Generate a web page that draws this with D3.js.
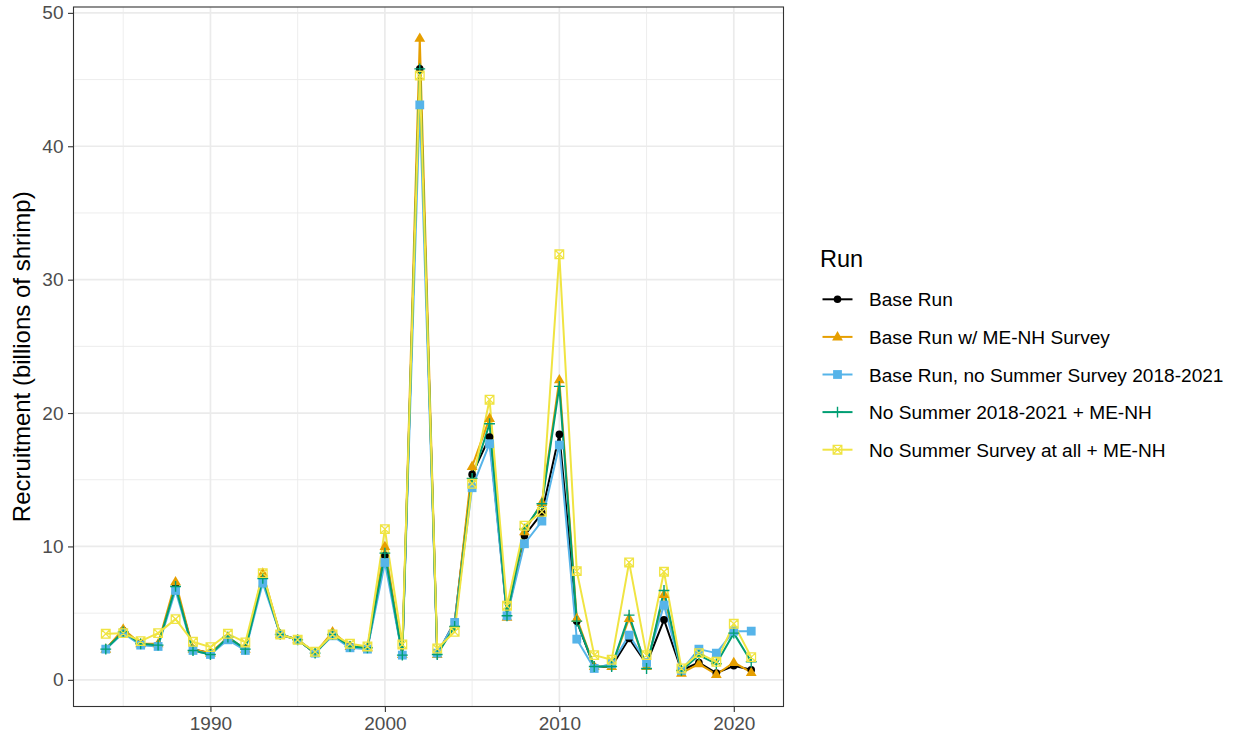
<!DOCTYPE html>
<html>
<head>
<meta charset="utf-8">
<script src="https://cdn.jsdelivr.net/npm/d3@7"></script>
<style>
  body { margin: 0; background: #fff; }
  svg { display: block; font-family: "Liberation Sans", Arial, sans-serif; }
</style>
</head>
<body>
<div id="chart"></div>
<script>
// recruitment estimates by model run
const years = d3.range(1984, 2022);

const baseRun = [2.3, 3.7, 2.7, 2.6, 7.0, 2.3, 2.0, 3.1, 2.3, 7.6, 3.4, 3.0, 2.0, 3.4, 2.5, 2.4,
  9.3, 1.9, 45.8, 1.9, 4.35, 15.4, 18.2, 4.8, 10.8, 12.5, 18.4, 4.4, 0.95, 1.0, 3.1, 1.2, 4.5, 0.7, 1.3, 0.5, 1.05, 0.75];
const baseMeNh = [2.3, 3.8, 2.7, 2.7, 7.35, 2.3, 2.0, 3.2, 2.3, 8.0, 3.4, 3.0, 2.0, 3.6, 2.5, 2.4,
  10.0, 1.9, 48.1, 1.9, 4.2, 16.0, 19.6, 4.7, 11.1, 13.3, 22.5, 4.6, 1.0, 1.0, 4.6, 1.0, 6.4, 0.5, 1.2, 0.4, 1.3, 0.55];
const baseNoSummer = [2.3, 3.5, 2.6, 2.5, 6.7, 2.2, 1.9, 3.0, 2.2, 7.25, 3.4, 3.0, 2.0, 3.3, 2.4, 2.3,
  8.8, 1.85, 43.1, 2.0, 4.3, 14.4, 17.7, 4.8, 10.2, 11.9, 17.6, 3.05, 0.85, 1.2, 3.35, 1.3, 5.6, 0.7, 2.3, 2.0, 3.65, 3.65];
const noSummerMeNh = [2.3, 3.6, 2.7, 2.6, 7.0, 2.2, 1.9, 3.2, 2.3, 7.6, 3.4, 3.0, 2.0, 3.4, 2.5, 2.4,
  9.5, 1.85, 45.8, 1.9, 4.0, 15.1, 19.2, 4.8, 11.3, 13.2, 22.0, 4.4, 1.0, 1.0, 4.85, 0.85, 6.7, 0.7, 1.85, 1.2, 3.5, 1.35];
const noSummerAtAll = [3.45, 3.5, 2.9, 3.5, 4.55, 2.85, 2.45, 3.45, 2.8, 8.0, 3.4, 3.0, 2.1, 3.4, 2.7, 2.5,
  11.3, 2.65, 45.3, 2.35, 3.6, 14.7, 21.0, 5.55, 11.55, 12.6, 31.9, 8.15, 1.85, 1.5, 8.8, 1.85, 8.1, 0.85, 2.0, 1.35, 4.2, 1.7];

const runNames = [
  'Base Run',
  'Base Run w/ ME-NH Survey',
  'Base Run, no Summer Survey 2018-2021',
  'No Summer 2018-2021 + ME-NH',
  'No Summer Survey at all + ME-NH'
];
const runValues = [baseRun, baseMeNh, baseNoSummer, noSummerMeNh, noSummerAtAll];
const runColors = ['#000000', '#E69F00', '#56B4E9', '#009E73', '#F0E442'];
const runShapes = ['circle', 'triangle', 'square', 'plus', 'boxX'];

const xMajor = [1990, 2000, 2010, 2020];
const xMinor = [1985, 1995, 2005, 2015];
const yMajor = [0, 10, 20, 30, 40, 50];
const yMinor = [5, 15, 25, 35, 45];

const width = 1238, height = 740;
const panel = { left: 73.5, right: 783.5, top: 7, bottom: 706.5 };

const svg = d3.select('#chart').append('svg')
  .attr('width', width)
  .attr('height', height);

const x = d3.scaleLinear().domain([1982.15, 2022.85]).range([panel.left, panel.right]);
const y = d3.scaleLinear().domain([-2.0, 50.44]).range([panel.bottom, panel.top]);

// grid
const grid = svg.append('g');
grid.selectAll('.vmin').data(xMinor).enter().append('line')
  .attr('x1', d => x(d)).attr('x2', d => x(d))
  .attr('y1', panel.top).attr('y2', panel.bottom)
  .attr('stroke', '#EBEBEB').attr('stroke-width', 0.9);
grid.selectAll('.hmin').data(yMinor).enter().append('line')
  .attr('y1', d => y(d)).attr('y2', d => y(d))
  .attr('x1', panel.left).attr('x2', panel.right)
  .attr('stroke', '#EBEBEB').attr('stroke-width', 0.9);
grid.selectAll('.vmaj').data(xMajor).enter().append('line')
  .attr('x1', d => x(d)).attr('x2', d => x(d))
  .attr('y1', panel.top).attr('y2', panel.bottom)
  .attr('stroke', '#EBEBEB').attr('stroke-width', 1.7);
grid.selectAll('.hmaj').data(yMajor).enter().append('line')
  .attr('y1', d => y(d)).attr('y2', d => y(d))
  .attr('x1', panel.left).attr('x2', panel.right)
  .attr('stroke', '#EBEBEB').attr('stroke-width', 1.7);

// point shapes
function drawShape(sel, shape, color) {
  if (shape === 'circle') {
    sel.append('circle').attr('r', 3.8).attr('fill', color);
  } else if (shape === 'triangle') {
    sel.append('path').attr('d', 'M0,-5.8L5.4,3.5L-5.4,3.5Z').attr('fill', color);
  } else if (shape === 'square') {
    sel.append('rect').attr('x', -4.4).attr('y', -4.4).attr('width', 8.8).attr('height', 8.8).attr('fill', color);
  } else if (shape === 'plus') {
    sel.append('path').attr('d', 'M-5.4,0H5.4M0,-5.4V5.4')
      .attr('stroke', color).attr('stroke-width', 1.4).attr('fill', 'none');
  } else if (shape === 'boxX') {
    sel.append('path').attr('d', 'M-4.3,-4.3H4.3V4.3H-4.3ZM-4.3,-4.3L4.3,4.3M4.3,-4.3L-4.3,4.3')
      .attr('stroke', color).attr('stroke-width', 1.3).attr('fill', 'none');
  }
}

const line = d3.line().x(d => x(d.year)).y(d => y(d.value));
const seriesData = runNames.map((name, i) => ({
  name,
  color: runColors[i],
  shape: runShapes[i],
  points: years.map((yr, j) => ({ year: yr, value: runValues[i][j] }))
}));

const plot = svg.append('g');
plot.selectAll('path.run').data(seriesData).enter().append('path')
  .attr('class', 'run')
  .attr('d', d => line(d.points))
  .attr('fill', 'none')
  .attr('stroke', d => d.color)
  .attr('stroke-width', 2)
  .attr('stroke-linejoin', 'round');

seriesData.forEach(s => {
  plot.append('g').selectAll('g').data(s.points).enter().append('g')
    .attr('transform', d => `translate(${x(d.year)},${y(d.value)})`)
    .each(function() { drawShape(d3.select(this), s.shape, s.color); });
});

// panel border
svg.append('rect')
  .attr('x', panel.left).attr('y', panel.top)
  .attr('width', panel.right - panel.left).attr('height', panel.bottom - panel.top)
  .attr('fill', 'none').attr('stroke', '#333333').attr('stroke-width', 1.1);

// axes
const xAxis = svg.append('g')
  .attr('transform', `translate(0,${panel.bottom})`)
  .call(d3.axisBottom(x).tickValues(xMajor).tickFormat(d3.format('d')).tickSize(5.5).tickPadding(4.5));
const yAxis = svg.append('g')
  .attr('transform', `translate(${panel.left},0)`)
  .call(d3.axisLeft(y).tickValues(yMajor).tickSize(5.5).tickPadding(4.5));
[xAxis, yAxis].forEach(a => {
  a.select('.domain').remove();
  a.selectAll('.tick line').attr('stroke', '#333333').attr('stroke-width', 1.1);
  a.selectAll('.tick text')
    .attr('fill', '#4D4D4D')
    .style('font-size', '19px')
    .style('font-family', '"Liberation Sans", Arial, sans-serif');
});

svg.append('text')
  .attr('transform', `translate(30,${(panel.top + panel.bottom) / 2}) rotate(-90)`)
  .attr('text-anchor', 'middle')
  .style('font-size', '24px')
  .text('Recruitment (billions of shrimp)');

// legend
const legend = svg.append('g').attr('transform', 'translate(820,0)');
legend.append('text')
  .attr('x', 0).attr('y', 266.5)
  .style('font-size', '23.5px')
  .text('Run');

const items = legend.selectAll('g.item').data(seriesData).enter().append('g')
  .attr('class', 'item')
  .attr('transform', (d, i) => `translate(0,${299.3 + i * 37.6})`);
items.append('line')
  .attr('x1', 2.5).attr('x2', 32.5)
  .attr('stroke', d => d.color).attr('stroke-width', 2);
items.append('g')
  .attr('transform', 'translate(17.5,0)')
  .each(function(d) { drawShape(d3.select(this), d.shape, d.color); });
items.append('text')
  .attr('x', 49).attr('y', 7)
  .style('font-size', '19.1px')
  .text(d => d.name);
</script>
</body>
</html>
